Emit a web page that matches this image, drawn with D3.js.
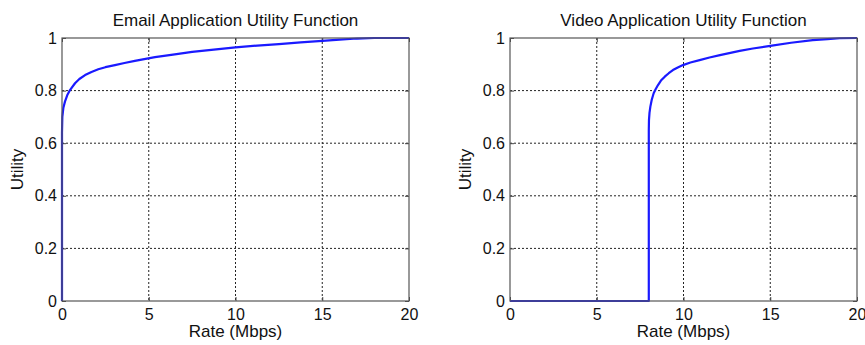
<!DOCTYPE html>
<html>
<head>
<meta charset="utf-8">
<script src="https://cdn.jsdelivr.net/npm/d3@7"></script>
<style>
  body { margin: 0; background: #fff; }
  svg text { font-family: "Liberation Sans", Arial, sans-serif; fill: #111; }
</style>
</head>
<body>
<svg id="drawing_region"></svg>
<script>
const xTicks = [0, 5, 10, 15, 20];
const yTicks = [0, 0.2, 0.4, 0.6, 0.8, 1];

const emailRate = [0, 0, 0.02, 0.08, 0.17, 0.3, 0.46, 0.75, 1.0, 1.33, 1.7, 2.09, 2.5, 3.05, 3.6, 4.2, 5.36, 6.5, 7.5, 8.75, 10, 11.25, 12.5, 13.75, 15, 16, 17, 18, 20];
const emailUtility = [0, 0.64, 0.70, 0.735, 0.758, 0.782, 0.802, 0.828, 0.844, 0.859, 0.871, 0.881, 0.889, 0.897, 0.905, 0.913, 0.927, 0.938, 0.947, 0.956, 0.964, 0.971, 0.977, 0.983, 0.989, 0.994, 0.998, 1, 1];

const videoRate = [0, 8, 8, 8.01, 8.04, 8.09, 8.17, 8.28, 8.4, 8.53, 8.7, 8.92, 9.15, 9.39, 9.67, 9.97, 10.4, 10.93, 11.5, 12.1, 13.24, 14, 15, 16.2, 17.45, 18.3, 19, 20];
const videoUtility = [0, 0, 0.65, 0.688, 0.715, 0.739, 0.765, 0.79, 0.806, 0.821, 0.838, 0.853, 0.866, 0.878, 0.888, 0.897, 0.907, 0.916, 0.926, 0.935, 0.951, 0.96, 0.97, 0.982, 0.992, 0.996, 0.999, 1];

const svg = d3.select('#drawing_region')
    .attr('width', 865)
    .attr('height', 345);

class UtilityChart {

    constructor( config, rate, utility ) {
        this.config = {
            left: config.left,
            top: config.top || 38,
            width: config.width || 347,
            height: config.height || 263,
            title: config.title || '',
            xlabel: config.xlabel || '',
            ylabel: config.ylabel || ''
        };
        this.data = rate.map((r, i) => ({ rate: r, utility: utility[i] }));
        this.init();
    }

    init() {
        let self = this;

        self.chart = svg.append('g')
            .attr('transform', `translate(${self.config.left}, ${self.config.top})`);

        self.xscale = d3.scaleLinear()
            .domain( [0, 20] )
            .range( [0, self.config.width] );

        self.yscale = d3.scaleLinear()
            .domain( [0, 1] )
            .range( [self.config.height, 0] );

        self.xaxis = d3.axisBottom( self.xscale )
            .tickValues( xTicks )
            .tickFormat( d => String(d) )
            .tickSize( -4 )
            .tickPadding( 8 );

        self.yaxis = d3.axisLeft( self.yscale )
            .tickValues( yTicks )
            .tickFormat( d => String(d) )
            .tickSize( -4 )
            .tickPadding( 5 );
    }

    render() {
        let self = this;
        const w = self.config.width, h = self.config.height;

        // dotted grid
        self.chart.append('g')
            .selectAll('line')
            .data( xTicks.slice(1, -1) )
            .join('line')
            .attr('x1', d => self.xscale(d))
            .attr('x2', d => self.xscale(d))
            .attr('y1', 0)
            .attr('y2', h)
            .attr('stroke', '#222')
            .attr('stroke-dasharray', '2,2');

        self.chart.append('g')
            .selectAll('line')
            .data( yTicks.slice(1, -1) )
            .join('line')
            .attr('x1', 0)
            .attr('x2', w)
            .attr('y1', d => self.yscale(d))
            .attr('y2', d => self.yscale(d))
            .attr('stroke', '#222')
            .attr('stroke-dasharray', '2,2');

        const xg = self.chart.append('g')
            .attr('transform', `translate(0, ${h})`)
            .call( self.xaxis );
        const yg = self.chart.append('g')
            .call( self.yaxis );
        // ticks on the top and right side too
        const xt = self.chart.append('g')
            .call( d3.axisTop(self.xscale).tickValues(xTicks).tickSize(-4).tickFormat('') );
        const yr = self.chart.append('g')
            .attr('transform', `translate(${w}, 0)`)
            .call( d3.axisRight(self.yscale).tickValues(yTicks).tickSize(-4).tickFormat('') );

        [xg, yg, xt, yr].forEach(g => {
            g.select('.domain').remove();
            g.selectAll('.tick line').attr('stroke', '#444');
            g.selectAll('.tick text').style('font-size', '16px').attr('fill', '#111');
        });

        self.chart.append('path')
            .datum( self.data )
            .attr('fill', 'none')
            .attr('stroke', '#1a1aff')
            .attr('stroke-width', 2.2)
            .attr('stroke-linejoin', 'round')
            .attr('d', d3.line()
                .x(d => self.xscale(d.rate))
                .y(d => self.yscale(d.utility)));

        self.chart.append('rect')
            .attr('width', w)
            .attr('height', h)
            .attr('fill', 'none')
            .attr('stroke', '#555')
            .attr('stroke-width', 1.2);

        self.chart.append('text')
            .style('font-size', '17px')
            .attr('text-anchor', 'middle')
            .attr('x', w / 2)
            .attr('y', -12)
            .text( self.config.title );

        self.chart.append('text')
            .style('font-size', '17px')
            .attr('text-anchor', 'middle')
            .attr('x', w / 2)
            .attr('y', h + 36)
            .text( self.config.xlabel );

        self.chart.append('text')
            .style('font-size', '17px')
            .attr('text-anchor', 'middle')
            .attr('transform', `translate(-39, ${h / 2}) rotate(-90)`)
            .text( self.config.ylabel );
    }
}

const email_chart = new UtilityChart({
    left: 62,
    title: 'Email Application Utility Function',
    xlabel: 'Rate (Mbps)',
    ylabel: 'Utility'
}, emailRate, emailUtility);
email_chart.render();

const video_chart = new UtilityChart({
    left: 510,
    title: 'Video Application Utility Function',
    xlabel: 'Rate (Mbps)',
    ylabel: 'Utility'
}, videoRate, videoUtility);
video_chart.render();
</script>
</body>
</html>
